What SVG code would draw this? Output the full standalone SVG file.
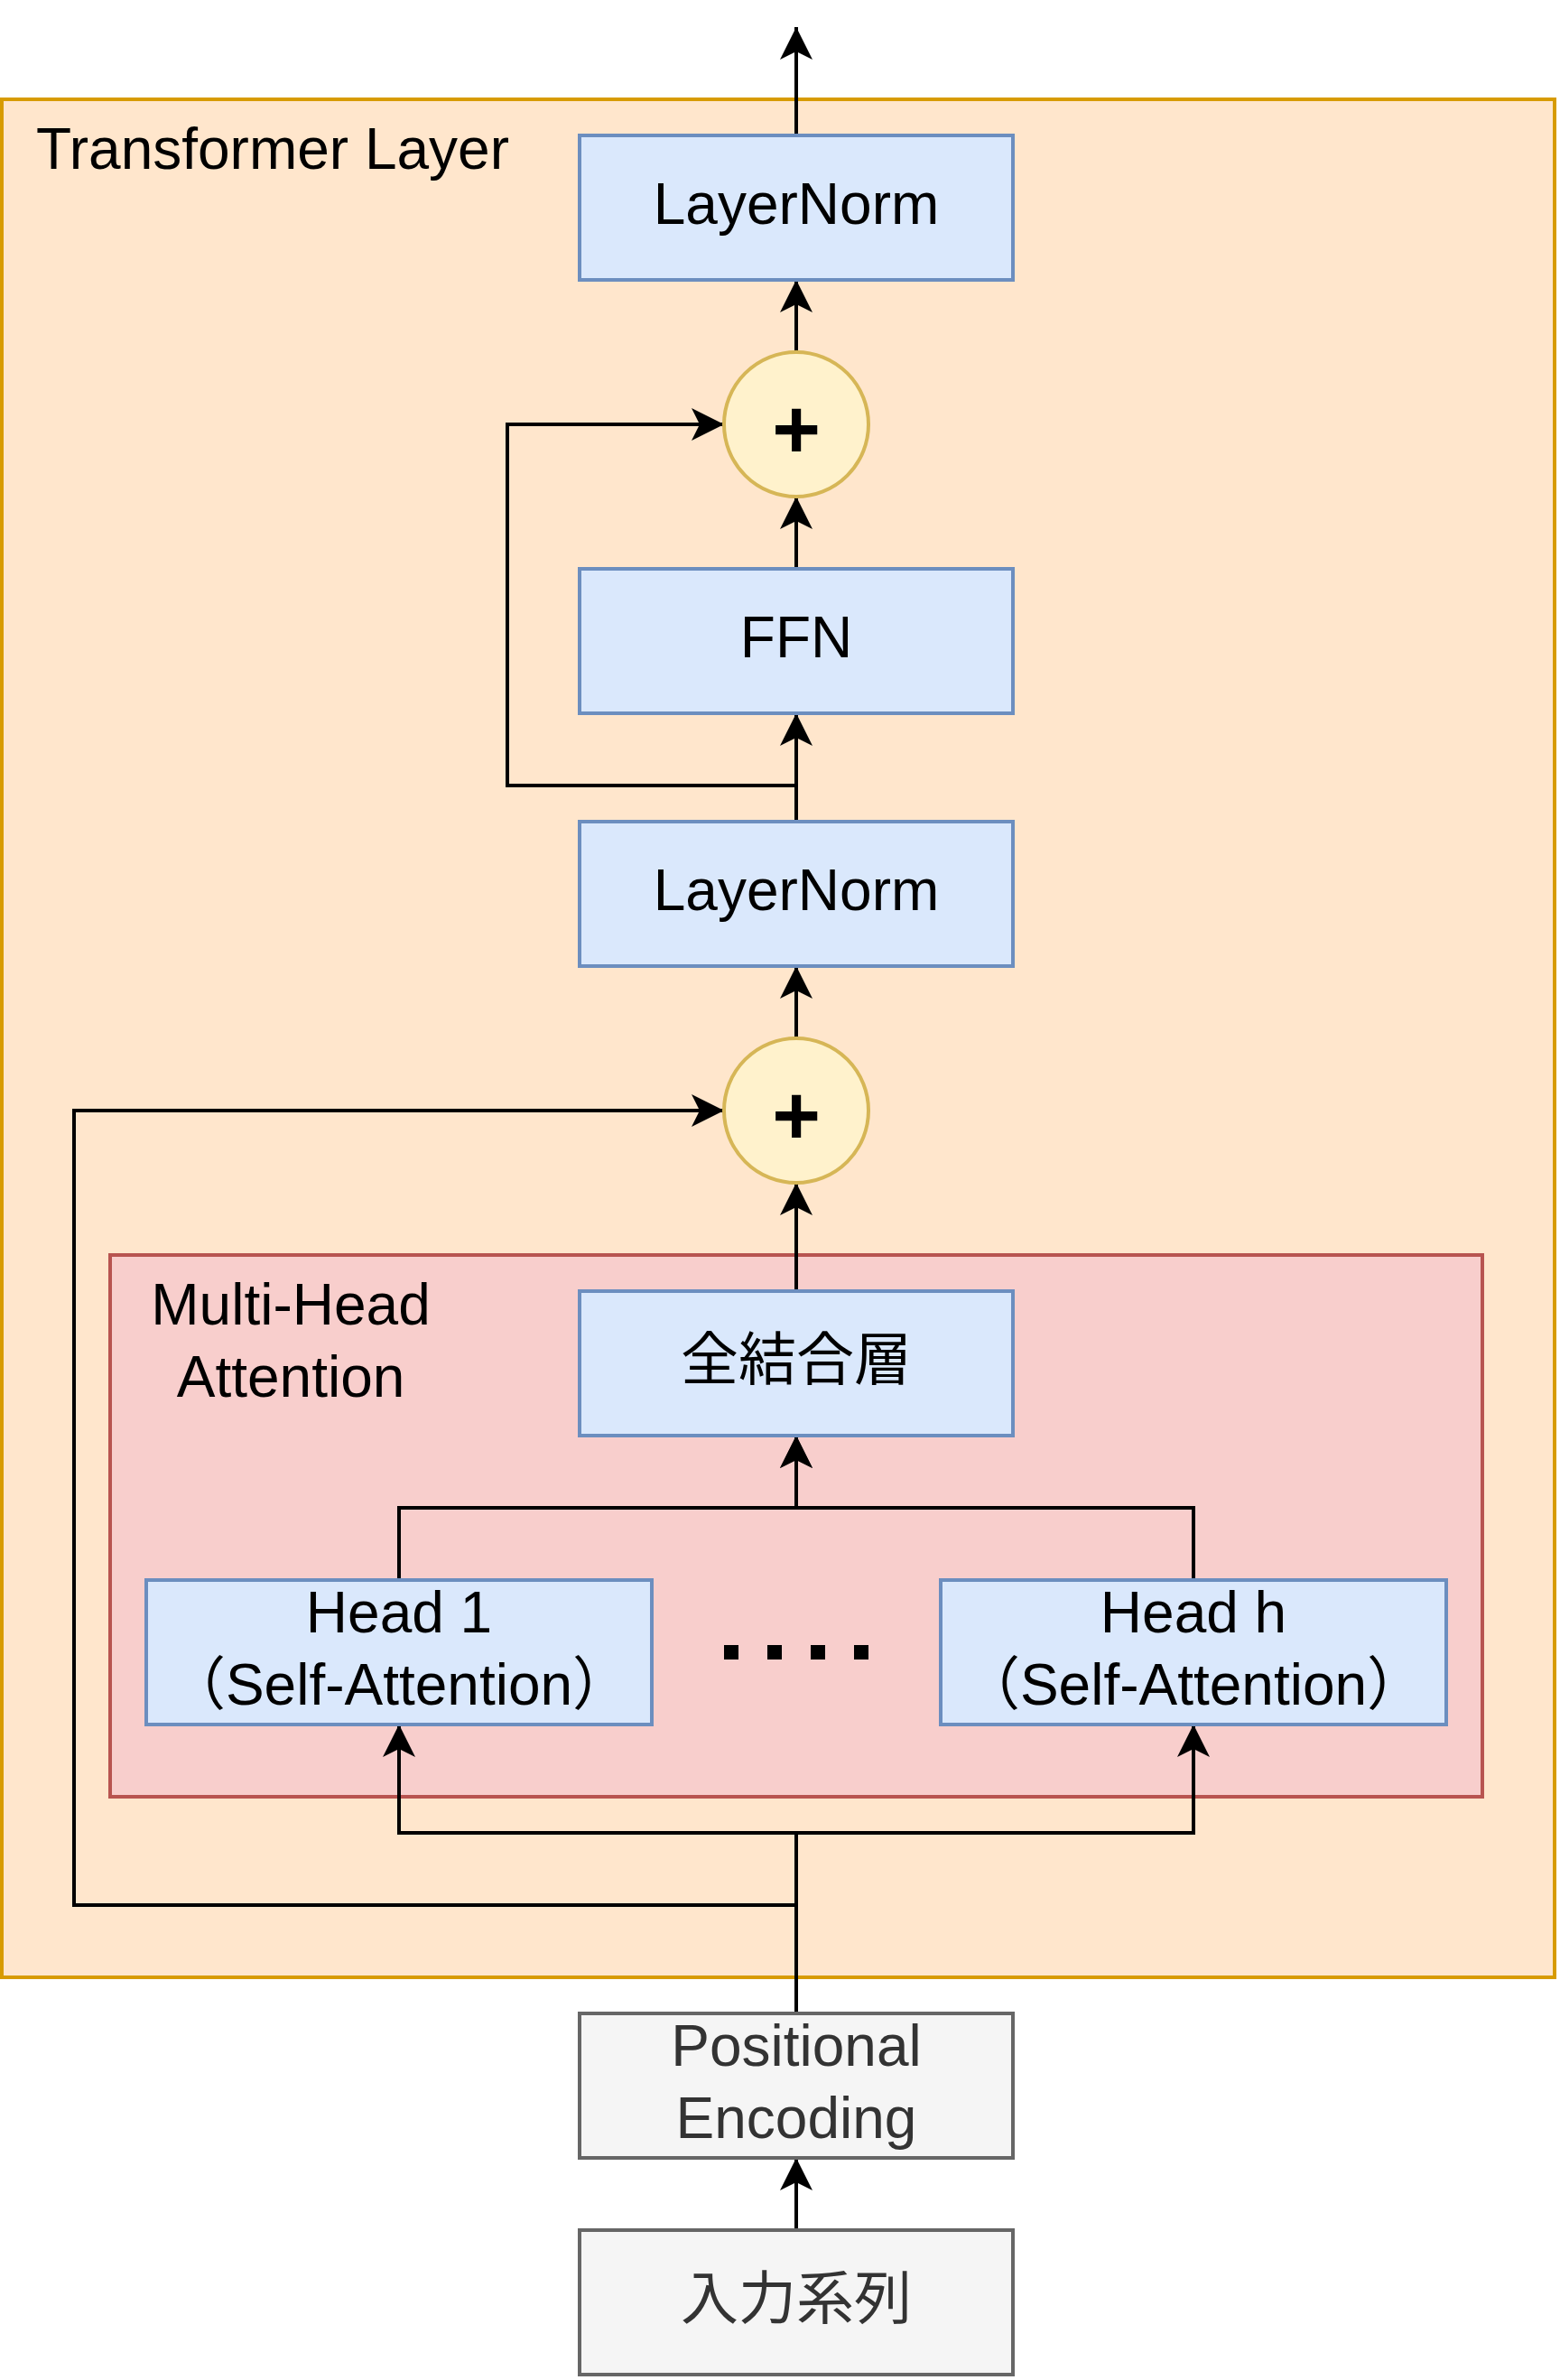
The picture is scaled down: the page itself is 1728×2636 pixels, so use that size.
<svg xmlns="http://www.w3.org/2000/svg" width="1728" height="2636" viewBox="0 0 1728 2636">
  <defs>
    <style>
      text { font-family: "Liberation Sans", Arial, "Noto Sans CJK JP", sans-serif; font-size: 64px; text-anchor: middle; fill: #000000; }
      .blue { fill: #dae8fc; stroke: #6c8ebf; stroke-width: 4; }
      .gray { fill: #f5f5f5; stroke: #666666; stroke-width: 4; }
      .sum { fill: #fff2cc; stroke: #d6b656; stroke-width: 4; }
      .grayText { fill: #333333; }
      .plus { font-size: 92px; font-weight: bold; }
      .edge { fill: none; stroke: #000000; stroke-width: 4; }
      .arrow { marker-end: url(#arr); }
    </style>
    <marker id="arr" markerUnits="userSpaceOnUse" markerWidth="40" markerHeight="40" viewBox="0 0 40 40" refX="38" refY="20" orient="auto">
      <path d="M2,2 L38,20 L2,38 L11,20 Z" fill="#000000"/>
    </marker>
  </defs>

  <rect x="0" y="0" width="1728" height="2636" fill="#ffffff"/>

  <g id="transformer-layer">
    <rect x="2" y="110" width="1720" height="2080" fill="#ffe6cc" stroke="#d79b00" stroke-width="4"/>
    <text x="40" y="187" style="text-anchor:start">Transformer Layer</text>
  </g>

  <g id="multi-head-attention">
    <rect x="122" y="1390" width="1520" height="600" fill="#f8cecc" stroke="#b85450" stroke-width="4"/>
    <text x="322" y="1467">Multi-Head</text>
    <text x="322" y="1547">Attention</text>
  </g>

  <g id="connectors">
    <path class="edge arrow" d="M882,150 L882,30"/>
    <path class="edge arrow" d="M882,390 L882,310"/>
    <path class="edge arrow" d="M882,630 L882,550"/>
    <path class="edge arrow" d="M882,910 L882,790"/>
    <path class="edge arrow" d="M882,910 L882,870 L562,870 L562,470 L802,470"/>
    <path class="edge arrow" d="M882,1150 L882,1070"/>
    <path class="edge arrow" d="M882,1430 L882,1310"/>
    <path class="edge arrow" d="M442,1750 L442,1670 L882,1670 L882,1590"/>
    <path class="edge arrow" d="M1322,1750 L1322,1670 L882,1670 L882,1590"/>
    <path class="edge arrow" d="M882,2230 L882,2030 L442,2030 L442,1910"/>
    <path class="edge arrow" d="M882,2230 L882,2030 L1322,2030 L1322,1910"/>
    <path class="edge arrow" d="M882,2230 L882,2110 L82,2110 L82,1230 L802,1230"/>
    <path class="edge arrow" d="M882,2470 L882,2390"/>
  </g>

  <g id="layernorm-top">
    <rect class="blue" x="642" y="150" width="480" height="160"/>
    <text x="882" y="248">LayerNorm</text>
  </g>

  <g id="add-top">
    <circle class="sum" cx="882" cy="470" r="80"/>
    <text class="plus" x="882" y="507">+</text>
  </g>

  <g id="ffn">
    <rect class="blue" x="642" y="630" width="480" height="160"/>
    <text x="882" y="728">FFN</text>
  </g>

  <g id="layernorm-bottom">
    <rect class="blue" x="642" y="910" width="480" height="160"/>
    <text x="882" y="1008">LayerNorm</text>
  </g>

  <g id="add-bottom">
    <circle class="sum" cx="882" cy="1230" r="80"/>
    <text class="plus" x="882" y="1267">+</text>
  </g>

  <g id="fully-connected">
    <rect class="blue" x="642" y="1430" width="480" height="160"/>
    <text x="882" y="1528">全結合層</text>
  </g>

  <g id="head-1">
    <rect class="blue" x="162" y="1750" width="560" height="160"/>
    <text x="442" y="1808">Head 1</text>
    <text x="442" y="1888">（Self-Attention）</text>
  </g>

  <g id="ellipsis">
    <line x1="802" y1="1830" x2="962" y2="1830" stroke="#000000" stroke-width="16" stroke-dasharray="16 32"/>
  </g>

  <g id="head-h">
    <rect class="blue" x="1042" y="1750" width="560" height="160"/>
    <text x="1322" y="1808">Head h</text>
    <text x="1322" y="1888">（Self-Attention）</text>
  </g>

  <g id="positional-encoding">
    <rect class="gray" x="642" y="2230" width="480" height="160"/>
    <text class="grayText" x="882" y="2288">Positional</text>
    <text class="grayText" x="882" y="2368">Encoding</text>
  </g>

  <g id="input-sequence">
    <rect class="gray" x="642" y="2470" width="480" height="160"/>
    <text class="grayText" x="882" y="2568">入力系列</text>
  </g>
</svg>
